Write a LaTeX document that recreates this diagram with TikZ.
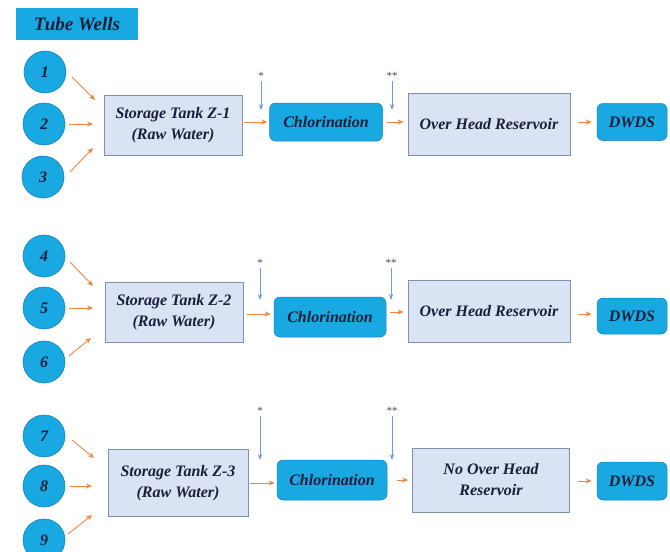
\documentclass[tikz,border=0pt]{standalone}
\usepackage{fontspec}
\setmainfont{Liberation Serif}
\usetikzlibrary{arrows.meta,calc}
\definecolor{cyanB}{HTML}{18A8E2}
\definecolor{cyanD}{HTML}{1580BE}
\definecolor{lav}{HTML}{DAE3F3}
\definecolor{lavD}{HTML}{8090AA}
\definecolor{orng}{HTML}{EF8444}
\definecolor{bluA}{HTML}{6A9ED6}
\definecolor{navy}{HTML}{1A1F3A}
\tikzset{
 txt/.style={font=\fontsize{16}{21}\selectfont\bfseries\itshape, text=navy},
 well/.style={circle, fill=cyanB, draw=cyanD, line width=0.6pt, minimum size=42pt, inner sep=0pt, txt},
 tank/.style={rectangle, fill=lav, draw=lavD, line width=0.8pt, align=center, inner sep=2pt, txt},
 proc/.style={rectangle, rounded corners=6pt, fill=cyanB, draw=cyanD, line width=0.5pt, inner sep=2pt, txt},
 oarr/.style={draw=orng, line width=0.9pt, -{Stealth[length=6pt,width=5pt]}},
 barr/.style={draw=bluA, line width=0.9pt, -{Stealth[length=6pt,width=4.5pt]}},
 star/.style={inner sep=1pt, font=\fontsize{11}{11}\selectfont, text=gray!60!black},
}
\begin{document}
\begin{tikzpicture}[x=1pt,y=-1pt]
\useasboundingbox (0,0) rectangle (670,552);
% title
\node[rectangle, fill=cyanB, minimum width=122pt, minimum height=32pt, inner sep=0pt, font=\fontsize{19}{20}\selectfont\bfseries\itshape, text=navy] (tw) at (77,24) {Tube Wells};

% ---------- Row 1 ----------
\node[well] (c1) at (45,72) {1};
\node[well] (c2) at (44,124) {2};
\node[well] (c3) at (43,177) {3};
\node[tank, minimum width=138pt, minimum height=60pt] (t1) at (173,125) {Storage Tank Z-1\\(Raw Water)};
\node[proc, minimum width=113pt, minimum height=38pt] (h1) at (326,122) {Chlorination};
\node[tank, minimum width=162pt, minimum height=62pt] (o1) at (489,124) {Over Head Reservoir};
\node[proc, minimum width=70pt, minimum height=37pt] (d1) at (632,122) {DWDS};
\coordinate (s11) at (72,77);  \coordinate (e11) at (95,100);
\coordinate (s12) at (69,124); \coordinate (e12) at (93,124);
\coordinate (s13) at (70,172); \coordinate (e13) at (93,148);
\draw[oarr] (s11) -- (e11);
\draw[oarr] (s12) -- (e12);
\draw[oarr] (s13) -- (e13);
\draw[oarr, shorten <=2pt, shorten >=2pt] (t1.east |- h1.west) -- (h1.west);
\draw[oarr, shorten <=4pt, shorten >=4pt] (h1.east) -- (h1.east -| o1.west);
\draw[oarr, shorten <=8pt, shorten >=5pt] (o1.east |- d1.west) -- (d1.west);
\node[star] (a1) at (261,76) {*};
\coordinate (b1) at (261,110);
\draw[barr] (a1) -- (b1);
\node[star] (a2) at (392,76) {**};
\coordinate (b2) at (392,110);
\draw[barr] (a2) -- (b2);

% ---------- Row 2 ----------
\node[well] (c4) at (44,256) {4};
\node[well] (c5) at (44,308) {5};
\node[well] (c6) at (44,362) {6};
\node[tank, minimum width=138pt, minimum height=60pt] (t2) at (174,312) {Storage Tank Z-2\\(Raw Water)};
\node[proc, minimum width=112pt, minimum height=40pt] (h2) at (330,317) {Chlorination};
\node[tank, minimum width=162pt, minimum height=62pt] (o2) at (489,311) {Over Head Reservoir};
\node[proc, minimum width=70pt, minimum height=36pt] (d2) at (632,316) {DWDS};
\coordinate (s21) at (70,262);  \coordinate (e21) at (93,286);
\coordinate (s22) at (69,308);  \coordinate (e22) at (93,308);
\coordinate (s23) at (69,356);  \coordinate (e23) at (91,338);
\draw[oarr] (s21) -- (e21);
\draw[oarr] (s22) -- (e22);
\draw[oarr] (s23) -- (e23);
\draw[oarr, shorten <=4pt, shorten >=3pt] (t2.east |- 0,314) -- (h2.west |- 0,314);
\draw[oarr, shorten <=4pt, shorten >=4pt] (h2.east |- 0,312) -- (o2.west |- 0,312);
\draw[oarr, shorten <=8pt, shorten >=5pt] (o2.east |- 0,314) -- (d2.west |- 0,314);
\node[star] (a3) at (260,263) {*};
\coordinate (b3) at (260,300);
\draw[barr] (a3) -- (b3);
\node[star] (a4) at (391,263) {**};
\coordinate (b4) at (391,300);
\draw[barr] (a4) -- (b4);

% ---------- Row 3 ----------
\node[well] (c7) at (44,436) {7};
\node[well] (c8) at (44,486) {8};
\node[well] (c9) at (44,540) {9};
\node[tank, minimum width=140pt, minimum height=67pt] (t3) at (178,483) {Storage Tank Z-3\\(Raw Water)};
\node[proc, minimum width=110pt, minimum height=40pt] (h3) at (332,480) {Chlorination};
\node[tank, minimum width=157pt, minimum height=64pt] (o3) at (491,480) {No Over Head\\Reservoir};
\node[proc, minimum width=70pt, minimum height=38pt] (d3) at (632,481) {DWDS};
\coordinate (s31) at (72,440);  \coordinate (e31) at (94,458);
\coordinate (s32) at (70,486);  \coordinate (e32) at (92,486);
\coordinate (s33) at (68,534);  \coordinate (e33) at (92,515);
\draw[oarr] (s31) -- (e31);
\draw[oarr] (s32) -- (e32);
\draw[oarr] (s33) -- (e33);
\draw[oarr, shorten <=2pt, shorten >=2pt] (t3.east) -- (t3.east -| h3.west);
\draw[oarr, shorten <=10pt, shorten >=4pt] (h3.east) -- (h3.east -| o3.west);
\draw[oarr, shorten <=8pt, shorten >=5pt] (o3.east |- d3.west) -- (d3.west);
\node[star] (a5) at (260,411) {*};
\coordinate (b5) at (260,460);
\draw[barr] (a5) -- (b5);
\node[star] (a6) at (392,411) {**};
\coordinate (b6) at (392,460);
\draw[barr] (a6) -- (b6);
\end{tikzpicture}
\end{document}
